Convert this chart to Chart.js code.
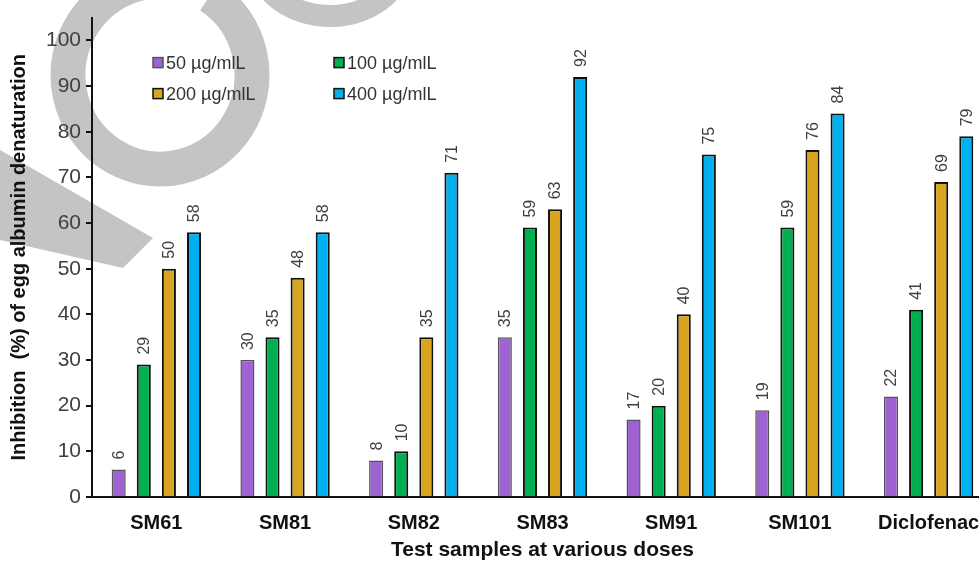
<!DOCTYPE html>
<html>
<head>
<meta charset="utf-8">
<script src="https://cdn.jsdelivr.net/npm/chart.js@4"></script>
<style>
  html, body { margin: 0; padding: 0; background: #fff; overflow: hidden; }
  #wrap { position: relative; width: 1000px; height: 563px; }
</style>
</head>
<body>
<div id="wrap"><canvas id="chart"></canvas></div>
<script>
// Chart data
const categories = ["SM61", "SM81", "SM82", "SM83", "SM91", "SM101", "Diclofenac"];
const doseLabels = ["50 µg/mlL", "100 µg/mlL", "200 µg/mlL", "400 µg/mlL"];
const dose50 = [6, 30, 8, 35, 17, 19, 22];
const dose100 = [29, 35, 10, 59, 20, 59, 41];
const dose200 = [50, 48, 35, 63, 40, 76, 69];
const dose400 = [58, 58, 71, 92, 75, 84, 79];
const yTicks = [0, 10, 20, 30, 40, 50, 60, 70, 80, 90, 100];

const FONT = "'Liberation Sans', Arial, sans-serif";
const fills = ["#9e62d2", "#00b050", "#d9a521", "#00b0f0"];
const edges = ["#555555", "#111111", "#111111", "#111111"];

/* faint grey watermark behind the chart */
const watermark = {
  id: "watermark",
  beforeDraw(chart) {
    const ctx = chart.ctx;
    ctx.save();
    ctx.strokeStyle = "#c4c4c4";
    ctx.fillStyle = "#c4c4c4";
    ctx.lineWidth = 35;
    ctx.beginPath();
    ctx.ellipse(160, 75, 92, 94, 0, -1.0, 4.6);
    ctx.stroke();
    ctx.lineWidth = 22;
    ctx.beginPath();
    ctx.ellipse(330, -40, 72, 56, 0, 0.2, Math.PI - 0.2);
    ctx.stroke();
    ctx.beginPath();
    ctx.moveTo(0, 150);
    ctx.lineTo(153, 238);
    ctx.lineTo(123, 268);
    ctx.lineTo(0, 240);
    ctx.closePath();
    ctx.fill();
    ctx.restore();
  }
};

/* rotated value labels above each bar */
const valueLabels = {
  id: "valueLabels",
  afterDatasetsDraw(chart) {
    const ctx = chart.ctx;
    ctx.save();
    ctx.font = "16px " + FONT;
    ctx.fillStyle = "#404040";
    ctx.textAlign = "left";
    ctx.textBaseline = "middle";
    chart.data.datasets.forEach((ds, i) => {
      chart.getDatasetMeta(i).data.forEach((bar, j) => {
        ctx.save();
        ctx.translate(bar.x + 1, bar.y - 10);
        ctx.rotate(-Math.PI / 2);
        ctx.fillText(String(ds.data[j]), 0, 0);
        ctx.restore();
      });
    });
    ctx.restore();
  }
};

/* legend inside the plot, two columns */
const innerLegend = {
  id: "innerLegend",
  afterDraw(chart) {
    const ctx = chart.ctx;
    const area = chart.chartArea;
    const cols = [area.left + 61, area.left + 242];
    const rows = [area.top + 45, area.top + 76];
    ctx.save();
    ctx.font = "18px " + FONT;
    ctx.textBaseline = "middle";
    ctx.textAlign = "left";
    chart.data.datasets.forEach((ds, i) => {
      const x = cols[i % 2];
      const y = rows[Math.floor(i / 2)];
      ctx.fillStyle = ds.backgroundColor;
      ctx.fillRect(x, y - 5, 10, 10);
      ctx.lineWidth = 1.5;
      ctx.strokeStyle = ds.borderColor;
      ctx.strokeRect(x, y - 5, 10, 10);
      ctx.fillStyle = "#333333";
      ctx.fillText(ds.label, x + 13, y + 1);
    });
    ctx.restore();
  }
};

const seriesValues = [dose50, dose100, dose200, dose400];

new Chart(document.getElementById("chart"), {
  type: "bar",
  data: {
    labels: categories,
    datasets: seriesValues.map((vals, i) => ({
      label: doseLabels[i],
      data: vals,
      backgroundColor: fills[i],
      borderColor: edges[i],
      borderWidth: i === 0 ? 1.5 : 2,
      categoryPercentage: 0.78,
      barPercentage: 0.56
    }))
  },
  options: {
    responsive: true,
    maintainAspectRatio: false,
    animation: false,
    layout: { padding: { left: 0, right: 7, top: 12, bottom: 0 } },
    plugins: {
      legend: { display: false },
      tooltip: { enabled: false }
    },
    scales: {
      x: {
        grid: { display: false },
        border: { display: true, color: "#111", width: 2 },
        ticks: { color: "#111", font: { family: FONT, size: 20, weight: "bold" }, padding: 6, maxRotation: 0 },
        title: {
          display: true,
          text: "Test samples at various doses",
          color: "#111",
          font: { family: FONT, size: 21, weight: "bold" },
          padding: { top: 3, bottom: 0 }
        },
        afterFit(scale) { scale.height = 66; }
      },
      y: {
        min: 0,
        max: 105,
        afterBuildTicks(scale) { scale.ticks = yTicks.map(v => ({ value: v })); },
        grid: { drawOnChartArea: false, drawTicks: true, tickLength: 6, color: "#111", lineWidth: 2 },
        border: { display: true, color: "#111", width: 2 },
        ticks: { color: "#404040", font: { family: FONT, size: 21 }, padding: 5 },
        title: {
          display: true,
          text: "Inhibition  (%) of egg albumin denaturation",
          color: "#111",
          font: { family: FONT, size: 20, weight: "bold" },
          padding: { top: 7, bottom: 0 }
        },
        afterFit(scale) { scale.width = 92; }
      }
    }
  },
  plugins: [watermark, valueLabels, innerLegend]
});
</script>
</body>
</html>
